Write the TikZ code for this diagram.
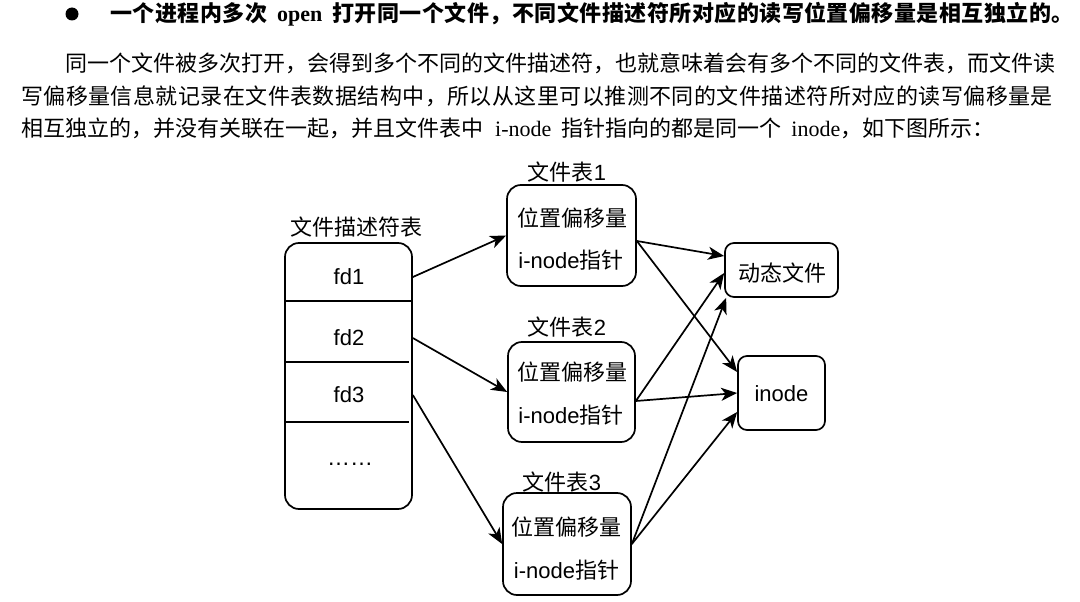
\documentclass[tikz,border=0pt]{standalone}
\usepackage{fontspec}
\setmainfont{Liberation Serif}
\newfontfamily\cjk{Noto Sans CJK SC}
\newfontfamily\arial{Liberation Sans}
\usetikzlibrary{arrows.meta,calc}
\begin{document}
\begin{tikzpicture}[x=1pt,y=-1pt,
  box/.style={draw, line width=1.7pt, rounded corners=14pt, inner sep=0pt},
  smallbox/.style={draw, line width=1.7pt, rounded corners=9pt, inner sep=0pt},
  lbl/.style={inner sep=0pt, font=\fontsize{22}{26}\selectfont},
  arr/.style={line width=1.7pt, -{Stealth[length=16pt,width=13pt,inset=4.5pt]}},
  divider/.style={line width=1.7pt},
  bodyline/.style={anchor=base west, inner sep=0pt, font=\fontsize{22}{26}\selectfont}]
\useasboundingbox[fill=white] (0,0) rectangle (1080,602);

% ---- text above the diagram ----
\node[circle, fill=black, minimum size=13pt, inner sep=0pt] (bullet) at (72,14) {};
\node[bodyline] (head) at (110,22) {\bfseries{\cjk\addfontfeature{LetterSpace=2.2}一个进程内多次}\hspace{10pt}open\hspace{10pt}{\cjk\addfontfeature{LetterSpace=2.2}打开同一个文件，不同文件描述符所对应的读写位置偏移量是相互独立的。}};
\node[bodyline] (line1) at (65,71.5) {\cjk 同一个文件被多次打开，会得到多个不同的文件描述符，也就意味着会有多个不同的文件表，而文件读};
\node[bodyline] (line2) at (21,105) {\cjk\addfontfeature{LetterSpace=2.0}写偏移量信息就记录在文件表数据结构中，所以从这里可以推测不同的文件描述符所对应的读写偏移量是};
\node[bodyline] (line3) at (21,136) {{\cjk 相互独立的，并没有关联在一起，并且文件表中}\hspace{12pt}i-node\hspace{10pt}{\cjk 指针指向的都是同一个}\hspace{10pt}inode{\cjk ，如下图所示：}};

% ---- file descriptor table ----
\node[box, minimum width=127pt, minimum height=266pt] (fdtab) at (348.5,376) {};
\node[lbl] (fdlabel) at (356,227) {\cjk 文件描述符表};
\draw[divider] ($(fdtab.north west)+(0,59)$) -- ($(fdtab.north east)+(-1,59)$);
\draw[divider] ($(fdtab.north west)+(0,120)$) -- ($(fdtab.north east)+(-4,120)$);
\draw[divider] ($(fdtab.north west)+(0,180)$) -- ($(fdtab.north east)+(-4,180)$);
\node[lbl, font=\fontsize{22}{26}\selectfont\arial] (fd1) at (349,277) {fd1};
\node[lbl, font=\fontsize{22}{26}\selectfont\arial] (fd2) at (349,338) {fd2};
\node[lbl, font=\fontsize{22}{26}\selectfont\arial] (fd3) at (349,395) {fd3};
\node[lbl, font=\fontsize{23}{26}\selectfont\arial] (dots) at (350,464) {……};

% ---- file tables ----
\node[box, minimum width=129pt, minimum height=101pt] (t1) at (571.5,235.5) {};
\node[lbl] (t1name) at (567,172) {{\cjk 文件表}{\arial 1}};
\node[lbl] (t1a) at (572,218) {\cjk 位置偏移量};
\node[lbl] (t1b) at (571,260) {{\arial i-node}{\cjk 指针}};

\node[box, minimum width=127pt, minimum height=100pt] (t2) at (571.5,392) {};
\node[lbl] (t2name) at (567,327) {{\cjk 文件表}{\arial 2}};
\node[lbl] (t2a) at (572,372) {\cjk 位置偏移量};
\node[lbl] (t2b) at (571,415) {{\arial i-node}{\cjk 指针}};

\node[box, minimum width=128pt, minimum height=102pt] (t3) at (567,544) {};
\node[lbl] (t3name) at (562,482) {{\cjk 文件表}{\arial 3}};
\node[lbl] (t3a) at (566,527) {\cjk 位置偏移量};
\node[lbl] (t3b) at (566.5,570) {{\arial i-node}{\cjk 指针}};

% ---- targets ----
\node[smallbox, minimum width=113pt, minimum height=54pt] (dyn) at (781.5,270) {};
\node[lbl] (dyntext) at (782,273) {\cjk 动态文件};
\node[smallbox, minimum width=87pt, minimum height=74pt] (inode) at (781.5,393) {};
\node[lbl, font=\fontsize{22}{26}\selectfont\arial] (inodetext) at (781.5,394) {inode};

% ---- connectors ----
\draw[arr] (fdtab.east |- fd1) -- (t1.west);
\draw[arr] (fdtab.east |- fd2) -- (t2.west);
\draw[arr] (fdtab.east |- fd3) -- (t3.west);

\draw[arr] ([yshift=-5.5pt]t1.east) -- ([yshift=14pt]dyn.west);
\draw[arr] ([yshift=-5.5pt]t1.east) -- ([yshift=21pt]inode.west);
\draw[arr] ([yshift=-9pt]t2.east) -- ([yshift=-3pt]dyn.west);
\draw[arr] ([yshift=-9pt]t2.east) -- (inode.west);
\draw[arr] (t3.east) -- ([xshift=2pt]dyn.south west);
\draw[arr] (t3.east) -- ([yshift=-19pt]inode.west);
\end{tikzpicture}
\end{document}
